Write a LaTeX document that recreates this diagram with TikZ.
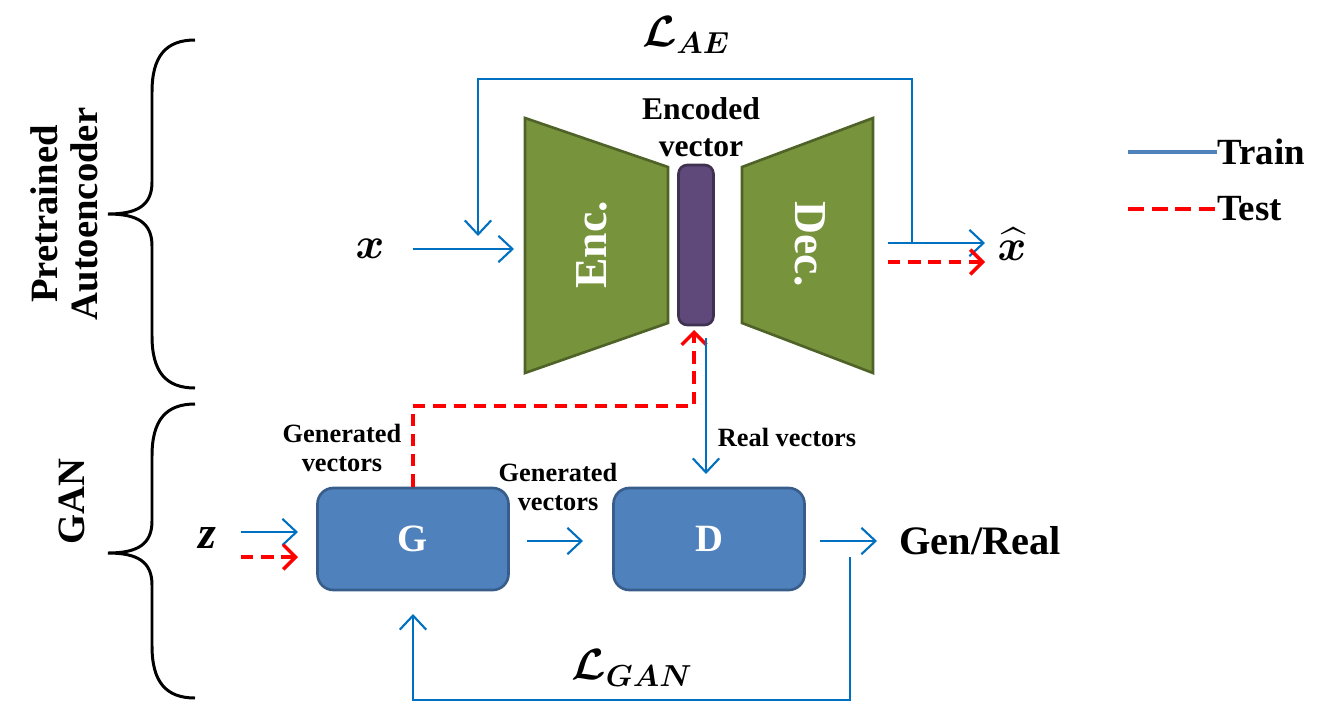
\documentclass[tikz,border=0pt]{standalone}
\usepackage{fontspec}
\usepackage{amsmath,bm}
\setmainfont{Liberation Serif}
\usetikzlibrary{arrows.meta}
\definecolor{arrblue}{HTML}{0070C0}
\definecolor{legblue}{HTML}{4F81BD}
\definecolor{encgreen}{HTML}{77933C}
\definecolor{encborder}{HTML}{4F6228}
\definecolor{vecpurple}{HTML}{5F497A}
\definecolor{vecborder}{HTML}{3F3151}
\definecolor{boxblue}{HTML}{4F81BD}
\definecolor{boxborder}{HTML}{385D8A}
\tikzset{
  train/.style={draw=arrblue, line width=1.2pt, -{Straight Barb[length=8pt,width=15pt,line width=1.2pt]}},
  test/.style={draw=red, line width=2pt, dash pattern=on 7pt off 4.5pt, -{Straight Barb[length=7pt,width=14pt,line width=2pt]}},
  netbox/.style={draw=boxborder, line width=1.5pt, fill=boxblue, rounded corners=9pt, minimum width=191*0.02cm, minimum height=102*0.02cm, text=white, font=\bfseries\fontsize{22}{24}\selectfont},
  lbl/.style={font=\bfseries\fontsize{15}{16}\selectfont, align=center, inner sep=0pt},
  brace/.style={draw=black, line width=1.7pt},
  side/.style={font=\bfseries\fontsize{22}{24}\selectfont, rotate=90, inner sep=0pt},
}
\begin{document}
\begin{tikzpicture}[x=0.02cm,y=-0.02cm]
\useasboundingbox (0,0) rectangle (1328,707);

% braces
\draw[brace] (195,40) .. controls (166,40) and (152,56) .. (152,92) -- (152,182) .. controls (152,205) and (138,214) .. (108,214) .. controls (138,214) and (152,223) .. (152,246) -- (152,336) .. controls (152,372) and (166,388) .. (195,388);
\draw[brace] (195,404) .. controls (166,404) and (152,420) .. (152,456) -- (152,521) .. controls (152,544) and (138,553) .. (108,553) .. controls (138,553) and (152,562) .. (152,585) -- (152,646) .. controls (152,682) and (166,698) .. (195,698);
\node[side] (pre) at (44,214) {Pretrained};
\node[side] (auto) at (84,214) {Autoencoder};
\node[side] (gan) at (72,502) {GAN};

% autoencoder
\draw[draw=encborder, line width=1.5pt, fill=encgreen] (525,118) -- (668,167) -- (668,323) -- (525,373) -- cycle;
\draw[draw=encborder, line width=1.5pt, fill=encgreen] (873,118) -- (742,167) -- (742,323) -- (873,373) -- cycle;
\node[draw=vecborder, line width=1.5pt, fill=vecpurple, rounded corners=5pt, minimum width=35*0.02cm, minimum height=160*0.02cm, inner sep=0pt] (vec) at (696,245) {};
\node[rotate=90, text=white, font=\bfseries\fontsize{26}{28}\selectfont] (enc) at (592,245) {Enc.};
\node[rotate=-90, text=white, font=\bfseries\fontsize{26}{28}\selectfont] (dec) at (810,244) {Dec.};
\node[font=\bfseries\fontsize{18}{21}\selectfont, align=center, inner sep=0pt] (encv) at (701,127) {Encoded\\vector};

\node[font=\fontsize{24}{26}\selectfont] (x) at (370,249) {$\bm{x}$};
\node[font=\fontsize{24}{26}\selectfont, inner sep=0pt] (xhat) at (1012,244) {$\widehat{\bm{x}}$};
\coordinate (xs) at (413,249);
\coordinate (encin) at (514,249);
\draw[train] (xs) -- (encin);
\coordinate (ds1) at (888,243);
\coordinate (de1) at (985,243);
\coordinate (ds2) at (888,262);
\coordinate (de2) at (985,262);
\draw[train] (ds1) -- (de1);
\draw[test] (ds2) -- (de2);
% AE loss loop
\coordinate (lr) at (912,243);
\coordinate (ll) at (478,236);
\draw[train] (lr) -- (912,79) -- (478,79) -- (ll);
\node[font=\fontsize{24}{26}\selectfont] (lae) at (686,35) {$\boldsymbol{\mathcal{L}}_{\bm{AE}}$};

% GAN
\node[netbox] (G) at (413,539) {G};
\node[netbox] (D) at (709,539) {D};
\node[font=\bfseries\itshape\fontsize{26}{28}\selectfont] (z) at (207,538) {z};
\coordinate (zs1) at (241,532);
\coordinate (ze1) at (298,532);
\coordinate (zs2) at (241,557);
\coordinate (ze2) at (298,557);
\draw[train] (zs1) -- (ze1);
\draw[test] (zs2) -- (ze2);
\coordinate (gds) at (527,541);
\coordinate (gde) at (583,541);
\draw[train] (gds) -- (gde);
\node[lbl] (gv2) at (558,487) {Generated\\vectors};
\node[lbl] (gv1) at (342,448) {Generated\\vectors};
\node[lbl] (rv) at (787,437) {Real vectors};
\coordinate (ods) at (820,541);
\coordinate (ode) at (877,541);
\draw[train] (ods) -- (ode);
\node[font=\bfseries\fontsize{23}{25}\selectfont, anchor=west, inner sep=0pt] (gr) at (899,541) {Gen/Real};
% red test path G -> encoded vector
\coordinate (vin) at (694,330);
\draw[test] (G.north) -- (413,406) -- (694,406) -- (vin);
% real vectors
\coordinate (rvs) at (706,338);
\coordinate (rve) at (706,474);
\draw[train] (rvs) -- (rve);
% GAN loss loop
\coordinate (gls) at (850,557);
\coordinate (gin) at (413,614);
\draw[train] (gls) -- (850,700) -- (413,700) -- (gin);
\node[font=\fontsize{24}{26}\selectfont] (lgan) at (632,668) {$\boldsymbol{\mathcal{L}}_{\bm{GAN}}$};

% legend
\coordinate (l1s) at (1128,152);
\coordinate (l1e) at (1217,152);
\coordinate (l2s) at (1128,209);
\coordinate (l2e) at (1217,209);
\draw[draw=legblue, line width=2.2pt] (l1s) -- (l1e);
\draw[draw=red, line width=2.2pt, dash pattern=on 9pt off 4.5pt] (l2s) -- (l2e);
\node[font=\bfseries\fontsize{21}{23}\selectfont, anchor=west, inner sep=0pt] (train) at (l1e) {Train};
\node[font=\bfseries\fontsize{21}{23}\selectfont, anchor=west, inner sep=0pt] (testl) at (l2e) {Test};
\end{tikzpicture}
\end{document}
